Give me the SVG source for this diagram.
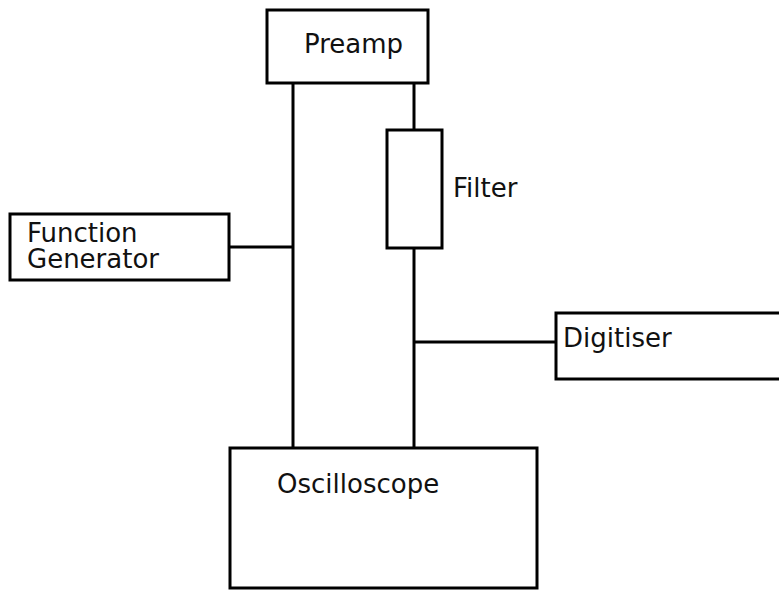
<svg xmlns="http://www.w3.org/2000/svg" width="779" height="590" viewBox="0 0 779 590">
<style>
.box{fill:#fff;stroke:#000;stroke-width:3}
.ln{stroke:#000;stroke-width:3;fill:none}
text{font-family:"DejaVu Sans",Verdana,sans-serif;font-size:26px;fill:#111}
</style>
<rect width="779" height="590" fill="#fff"/>
<g id="connectors">
<line class="ln" x1="293" y1="83" x2="293" y2="448"/>
<line class="ln" x1="414" y1="83" x2="414" y2="130"/>
<line class="ln" x1="414" y1="248" x2="414" y2="448"/>
<line class="ln" x1="229" y1="247" x2="293" y2="247"/>
<line class="ln" x1="414" y1="342" x2="556" y2="342"/>
</g>
<g id="preamp">
<rect class="box" x="267" y="10" width="161" height="73"/>
<text x="304" y="53">Preamp</text>
</g>
<g id="function-generator">
<rect class="box" x="10" y="214" width="219" height="66"/>
<text x="27" y="242">Function<tspan x="27" y="268">Generator</tspan></text>
</g>
<g id="filter">
<rect class="box" x="387" y="130" width="55" height="118"/>
<text x="453" y="197">Filter</text>
</g>
<g id="digitiser">
<rect class="box" x="556" y="313" width="226" height="66"/>
<text x="563" y="347">Digitiser</text>
</g>
<g id="oscilloscope">
<rect class="box" x="230" y="448" width="307" height="140"/>
<text x="277" y="493">Oscilloscope</text>
</g>
</svg>
